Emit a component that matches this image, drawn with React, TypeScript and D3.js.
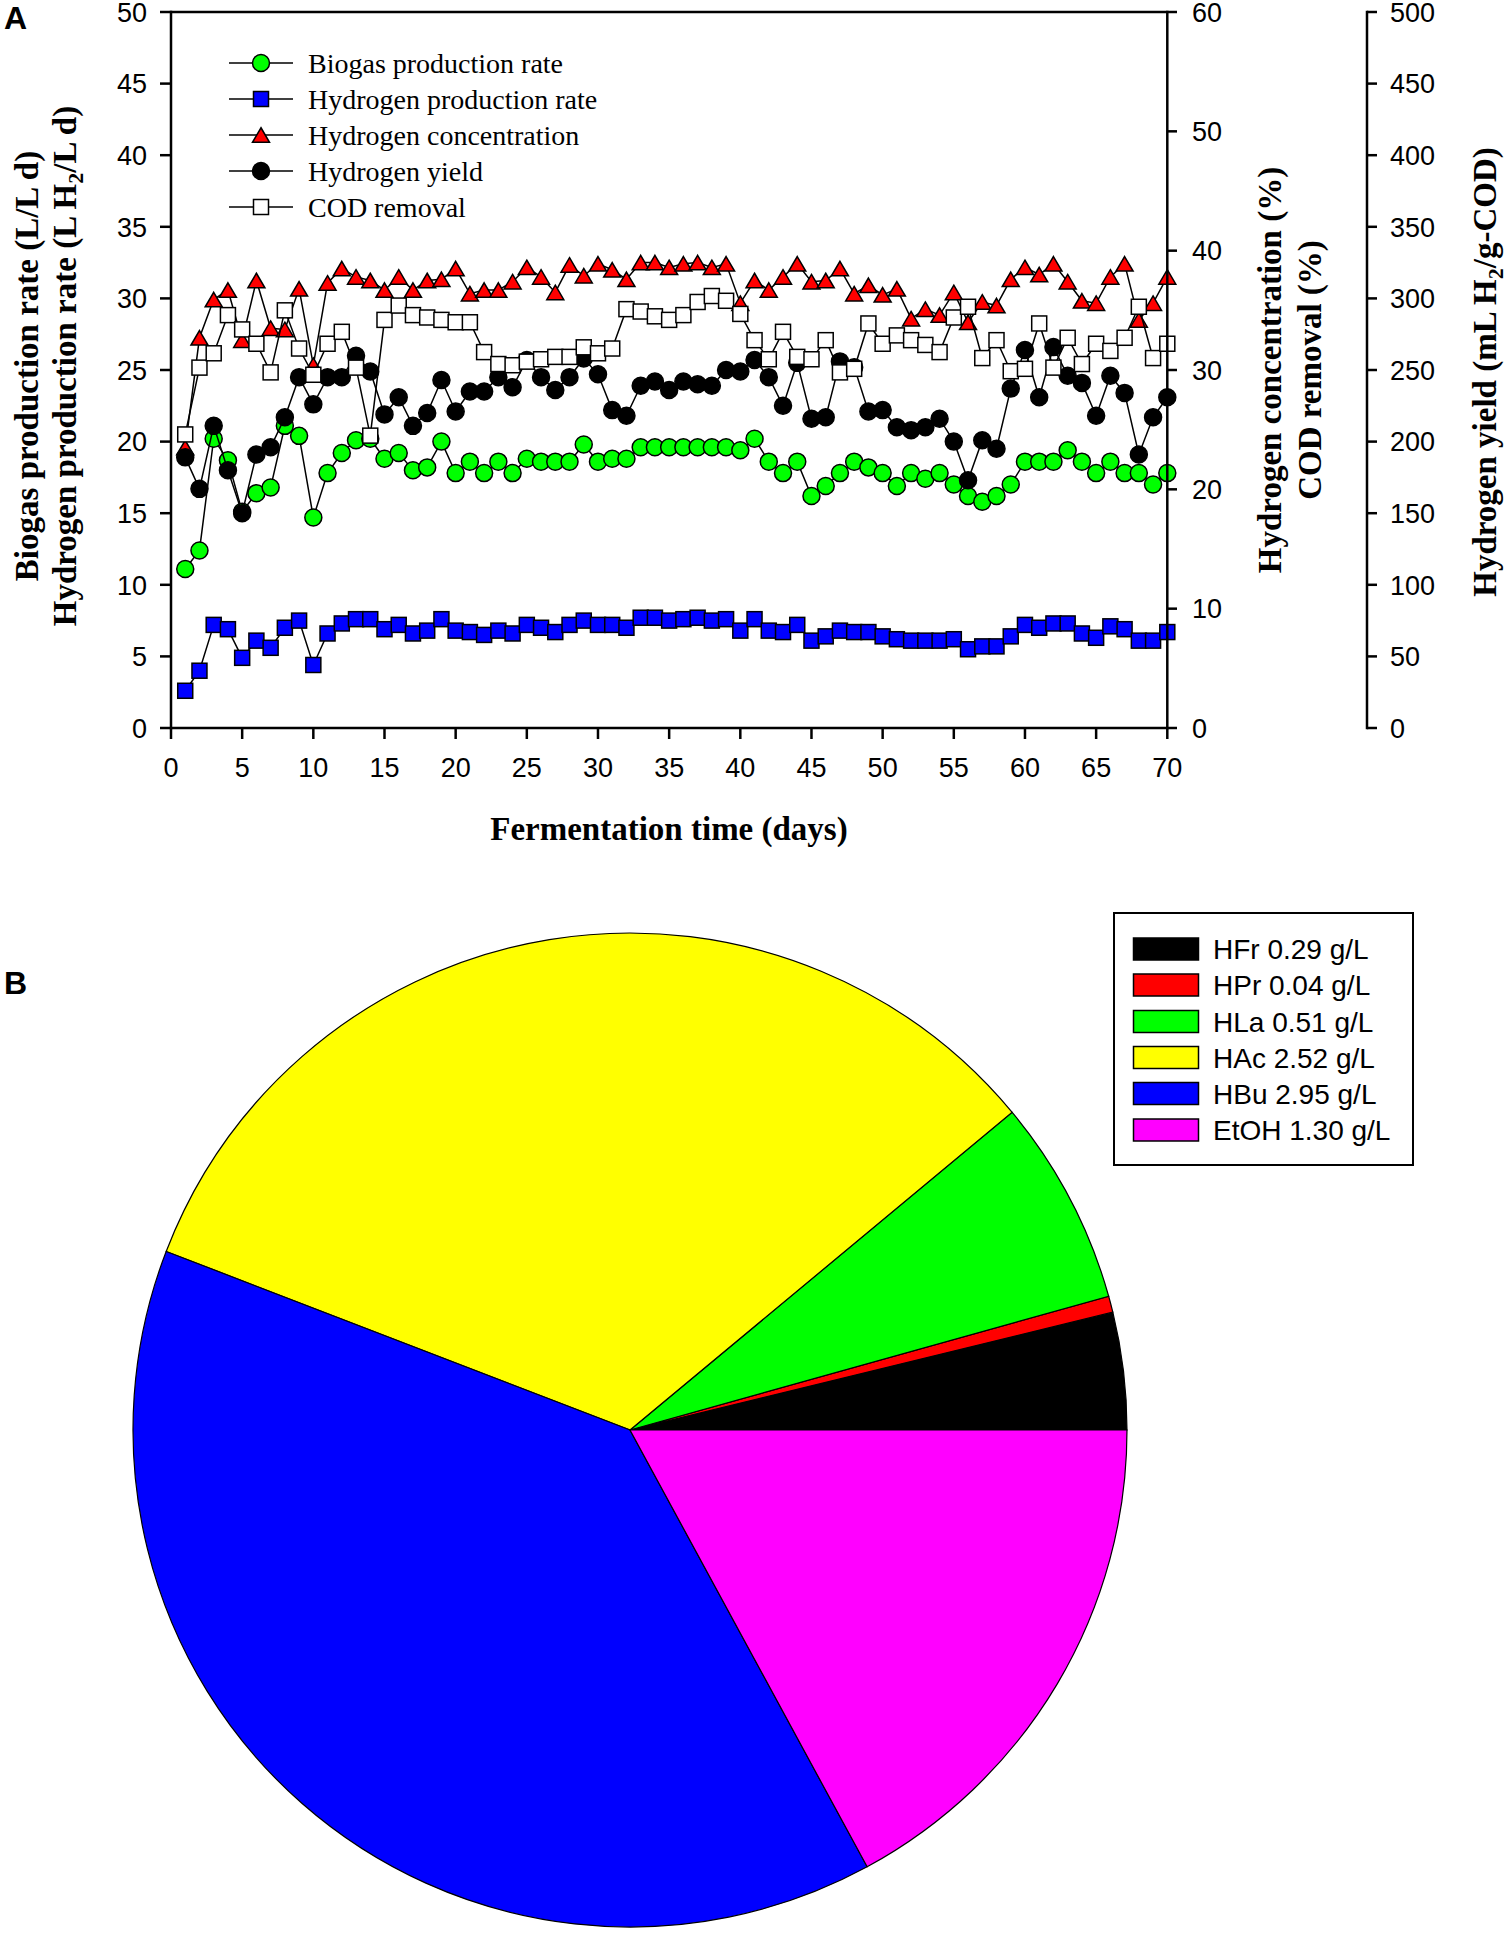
import React from "react";
import * as d3 from "d3";

const days = d3.range(1, 71);
const biogasRate = [11.1,12.4,20.2,18.7,15.1,16.4,16.8,21.1,20.4,14.7,17.8,19.2,20.1,20.2,18.8,19.2,18.0,18.2,20.0,17.8,18.6,17.8,18.6,17.8,18.8,18.6,18.6,18.6,19.8,18.6,18.8,18.8,19.6,19.6,19.6,19.6,19.6,19.6,19.6,19.4,20.2,18.6,17.8,18.6,16.2,16.9,17.8,18.6,18.2,17.8,16.9,17.8,17.4,17.8,17.0,16.2,15.8,16.2,17.0,18.6,18.6,18.6,19.4,18.6,17.8,18.6,17.8,17.8,17.0,17.8];
const h2Rate = [2.6,4.0,7.2,6.9,4.9,6.1,5.6,7.0,7.5,4.4,6.6,7.3,7.6,7.6,6.9,7.2,6.6,6.8,7.6,6.8,6.7,6.5,6.8,6.6,7.2,7.0,6.7,7.2,7.5,7.2,7.2,7.0,7.7,7.7,7.5,7.6,7.7,7.5,7.6,6.8,7.6,6.8,6.7,7.2,6.1,6.4,6.8,6.7,6.7,6.4,6.2,6.1,6.1,6.1,6.2,5.5,5.7,5.7,6.4,7.2,7.0,7.3,7.3,6.6,6.3,7.1,6.9,6.1,6.1,6.7];
const h2Conc = [23.5,32.7,35.9,36.7,32.5,37.5,33.5,33.4,36.8,30.4,37.3,38.5,37.8,37.5,36.7,37.8,36.7,37.5,37.6,38.5,36.4,36.7,36.7,37.4,38.6,37.8,36.5,38.8,37.9,38.9,38.4,37.6,39.0,39.0,38.6,38.9,39.0,38.6,38.9,35.6,37.5,36.7,37.8,38.9,37.4,37.5,38.5,36.4,37.1,36.3,36.8,34.3,35.1,34.6,36.5,34.0,35.7,35.4,37.6,38.6,38.0,38.9,37.4,35.8,35.6,37.8,38.9,34.2,35.6,37.8];
const h2Yield = [189,167,211,180,150,191,196,217,245,226,245,245,260,249,219,231,211,220,243,221,235,235,245,238,257,245,236,245,258,247,222,218,239,242,236,242,240,239,250,249,257,245,225,255,216,217,256,252,221,222,210,208,210,216,200,173,201,195,237,264,231,266,246,241,218,246,234,191,217,231];
const codRemoval = [24.6,30.2,31.4,34.6,33.4,32.2,29.8,35.0,31.8,29.6,32.2,33.2,30.2,24.5,34.2,35.4,34.6,34.4,34.2,34.0,34.0,31.5,30.5,30.4,30.7,30.9,31.1,31.1,31.9,31.4,31.8,35.1,34.9,34.5,34.2,34.6,35.7,36.2,35.8,34.7,32.5,30.9,33.2,31.1,30.9,32.5,29.8,30.1,33.9,32.2,32.9,32.5,32.1,31.5,34.4,35.3,31.0,32.5,29.9,30.1,33.9,30.2,32.7,30.5,32.2,31.6,32.7,35.3,31.0,32.2];

const xTicks = d3.range(0, 71, 5);
const leftTicks = d3.range(0, 51, 5);
const concTicks = d3.range(0, 61, 10);
const yieldTicks = d3.range(0, 501, 50);

const pieLabels = ["HFr", "HPr", "HLa", "HAc", "HBu", "EtOH"];
const pieValues = [0.29, 0.04, 0.51, 2.52, 2.95, 1.30];
const pieColors = ["#000000", "#ff0000", "#00ff00", "#ffff00", "#0000ff", "#ff00ff"];

const SANS = "'Liberation Sans', Arial, sans-serif";
const SERIF = "'Liberation Serif', 'Times New Roman', serif";

type Marker = "circle" | "square" | "triangle";

function MarkerShape({ type, fill, cx, cy }: { type: Marker; fill: string; cx: number; cy: number }) {
  if (type === "circle") return <circle cx={cx} cy={cy} r={8.5} fill={fill} stroke="#000" strokeWidth={1.5} />;
  if (type === "square") return <rect x={cx - 7.5} y={cy - 7.5} width={15} height={15} fill={fill} stroke="#000" strokeWidth={1.5} />;
  const h = 14.5, w = 17;
  return <path d={`M${cx},${cy - h / 2}L${cx + w / 2},${cy + h / 2}L${cx - w / 2},${cy + h / 2}Z`} fill={fill} stroke="#000" strokeWidth={1.5} />;
}

export default function App() {
  const x = d3.scaleLinear().domain([0, 70]).range([171, 1167.3]);
  const yL = d3.scaleLinear().domain([0, 50]).range([728, 12]);
  const yC = d3.scaleLinear().domain([0, 60]).range([728, 12]);
  const yY = d3.scaleLinear().domain([0, 500]).range([728, 12]);
  const axis2X = 1367;

  const series: { name: string; values: number[]; scale: d3.ScaleLinear<number, number>; marker: Marker; fill: string }[] = [
    { name: "Biogas production rate", values: biogasRate, scale: yL, marker: "circle", fill: "#00ff00" },
    { name: "Hydrogen production rate", values: h2Rate, scale: yL, marker: "square", fill: "#0000ff" },
    { name: "Hydrogen concentration", values: h2Conc, scale: yC, marker: "triangle", fill: "#ff0000" },
    { name: "Hydrogen yield", values: h2Yield, scale: yY, marker: "circle", fill: "#000000" },
    { name: "COD removal", values: codRemoval, scale: yC, marker: "square", fill: "#ffffff" },
  ];

  const pie = d3.pie<number>().sort(null).startAngle(Math.PI / 2).endAngle(Math.PI / 2 - 2 * Math.PI);
  const arcs = pie(pieValues);
  const arc = d3.arc<d3.PieArcDatum<number>>().innerRadius(0).outerRadius(497);
  const pcx = 630, pcy = 1430;

  const legendY = [63, 99, 135, 171, 207];
  const pieLegendY = [949, 985, 1021.5, 1057.5, 1093.5, 1130];

  return (
    <div style={{ position: "absolute", left: 0, top: 0 }}>
      <svg width={1509} height={1933} viewBox="0 0 1509 1933" style={{ display: "block", background: "#fff" }}>
        <rect x={0} y={0} width={1509} height={1933} fill="#fff" />
        {/* Panel labels */}
        <text x={4} y={29} fontFamily={SANS} fontWeight="bold" fontSize={32}>A</text>
        <text x={4} y={994} fontFamily={SANS} fontWeight="bold" fontSize={32}>B</text>

        {/* series */}
        {series.map((s) => {
          const line = d3.line<number>().x((_, i) => x(days[i])).y((v) => s.scale(v));
          return (
            <g key={s.name}>
              <path d={line(s.values) || ""} fill="none" stroke="#000" strokeWidth={1.5} />
              {s.values.map((v, i) => (
                <MarkerShape key={i} type={s.marker} fill={s.fill} cx={x(days[i])} cy={s.scale(v)} />
              ))}
            </g>
          );
        })}

        {/* frame / axes */}
        <line x1={171} y1={12} x2={1167.3} y2={12} stroke="#000" strokeWidth={2.5} />
        <line x1={171} y1={728} x2={1167.3} y2={728} stroke="#000" strokeWidth={2.5} />
        <line x1={171} y1={10.8} x2={171} y2={729.2} stroke="#000" strokeWidth={2.5} />
        <line x1={1167.3} y1={10.8} x2={1167.3} y2={729.2} stroke="#000" strokeWidth={2.5} />
        <line x1={axis2X} y1={10.8} x2={axis2X} y2={729.2} stroke="#000" strokeWidth={2.5} />

        {xTicks.map((t) => (
          <g key={"x" + t}>
            <line x1={x(t)} y1={728} x2={x(t)} y2={739} stroke="#000" strokeWidth={2.5} />
            <text x={x(t)} y={777} textAnchor="middle" fontFamily={SANS} fontSize={27}>{t}</text>
          </g>
        ))}
        {leftTicks.map((t) => (
          <g key={"l" + t}>
            <line x1={160} y1={yL(t)} x2={171} y2={yL(t)} stroke="#000" strokeWidth={2.5} />
            <text x={147} y={yL(t) + 9.7} textAnchor="end" fontFamily={SANS} fontSize={27}>{t}</text>
          </g>
        ))}
        {concTicks.map((t) => (
          <g key={"c" + t}>
            <line x1={1167.3} y1={yC(t)} x2={1177} y2={yC(t)} stroke="#000" strokeWidth={2.5} />
            <text x={1192} y={yC(t) + 9.7} textAnchor="start" fontFamily={SANS} fontSize={27}>{t}</text>
          </g>
        ))}
        {yieldTicks.map((t) => (
          <g key={"y" + t}>
            <line x1={axis2X} y1={yY(t)} x2={axis2X + 10} y2={yY(t)} stroke="#000" strokeWidth={2.5} />
            <text x={1390} y={yY(t) + 9.7} textAnchor="start" fontFamily={SANS} fontSize={27}>{t}</text>
          </g>
        ))}

        {/* axis titles */}
        <text x={669} y={840} textAnchor="middle" fontFamily={SERIF} fontWeight="bold" fontSize={33}>Fermentation time (days)</text>
        <text transform="translate(38,366) rotate(-90)" textAnchor="middle" fontFamily={SERIF} fontWeight="bold" fontSize={33}>Biogas production rate (L/L d)</text>
        <text transform="translate(76,366) rotate(-90)" textAnchor="middle" fontFamily={SERIF} fontWeight="bold" fontSize={33}>
          Hydrogen production rate (L H<tspan fontSize={22} dy={7}>2</tspan><tspan dy={-7}>/L d)</tspan>
        </text>
        <text transform="translate(1281,370) rotate(-90)" textAnchor="middle" fontFamily={SERIF} fontWeight="bold" fontSize={33}>Hydrogen concentration (%)</text>
        <text transform="translate(1321,370) rotate(-90)" textAnchor="middle" fontFamily={SERIF} fontWeight="bold" fontSize={33}>COD removal (%)</text>
        <text transform="translate(1496,372) rotate(-90)" textAnchor="middle" fontFamily={SERIF} fontWeight="bold" fontSize={33}>
          Hydrogen yield (mL H<tspan fontSize={22} dy={7}>2</tspan><tspan dy={-7}>/g-COD)</tspan>
        </text>

        {/* legend A */}
        {series.map((s, i) => (
          <g key={"lg" + i}>
            <line x1={229} y1={legendY[i]} x2={293} y2={legendY[i]} stroke="#000" strokeWidth={1.5} />
            <MarkerShape type={s.marker} fill={s.fill} cx={261} cy={legendY[i]} />
            <text x={308} y={legendY[i] + 9.5} fontFamily={SERIF} fontSize={28}>{s.name}</text>
          </g>
        ))}

        {/* pie */}
        <g transform={`translate(${pcx},${pcy})`}>
          {arcs.map((a, i) => (
            <path key={"p" + i} d={arc(a) || ""} fill={pieColors[i]} stroke="#000" strokeWidth={1.2} />
          ))}
        </g>

        {/* legend B */}
        <rect x={1114} y={913} width={299} height={252} fill="#fff" stroke="#000" strokeWidth={2} />
        {pieLabels.map((l, i) => (
          <g key={"pl" + i}>
            <rect x={1133.5} y={pieLegendY[i] - 11} width={65} height={22} fill={pieColors[i]} stroke="#000" strokeWidth={1.5} />
            <text x={1213} y={pieLegendY[i] + 10} fontFamily={SANS} fontSize={28}>{`${l} ${pieValues[i].toFixed(2)} g/L`}</text>
          </g>
        ))}
      </svg>
    </div>
  );
}
